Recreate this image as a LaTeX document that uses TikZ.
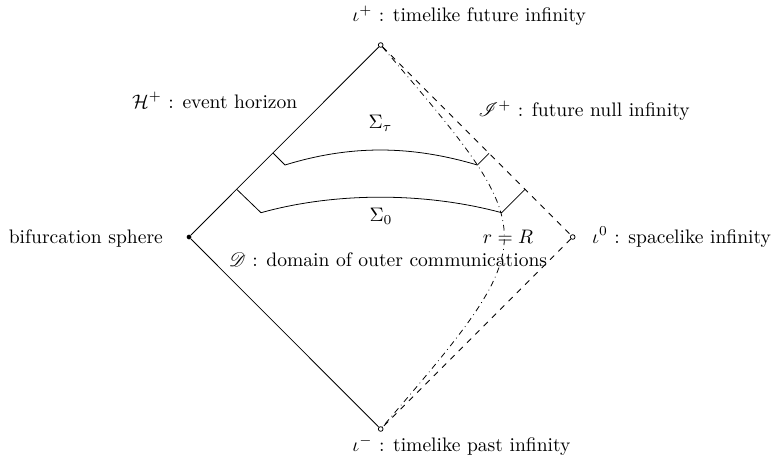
\documentclass[tikz,border=0pt]{standalone}
\usepackage{amsmath}
\usepackage{mathrsfs}
\usepackage{tikz}

\tikzset{
  infpt/.style={circle,draw,fill=white,inner sep=0pt,minimum size=2.4pt},
  bifpt/.style={circle,fill=black,inner sep=0pt,minimum size=2.4pt},
  lbl/.style={inner sep=0pt},
}

\begin{document}
\begin{tikzpicture}[x=0.511pt, y=-0.511pt, line width=0.4pt, line join=round]

  %% ════ 四个顶点 ════
  \node[infpt] (iplus)  at (380.7,45.0)  {};   % 上
  \node[infpt] (izero)  at (572.7,237.0) {};   % 右
  \node[infpt] (iminus) at (380.7,429.0) {};   % 下
  \node[bifpt] (bif)    at (189.0,237.0) {};   % 左

  %% ════ 边界 ════
  \draw (bif) -- (iplus);
  \draw (bif) -- (iminus);
  \draw[dashed] (iplus) -- (izero);
  \draw[dashed] (izero) -- (iminus);

  %% ════ r = R 曲线 ════
  \draw[dash dot] (iplus) .. controls (545.0,237.0) and (545.0,237.0) .. (iminus);

  %% ════ 两片超曲面 ════
  \coordinate (st1) at (273.3,153.3);
  \coordinate (st2) at (285.0,165.0);
  \coordinate (st3) at (477.3,165.0);
  \coordinate (st4) at (489.0,153.3);
  \draw (st1) -- (st2) .. controls (350.0,145.0) and (410.0,145.0) .. (st3) -- (st4);

  \coordinate (sz1) at (236.7,189.3);
  \coordinate (sz2) at (261.0,212.7);
  \coordinate (sz3) at (501.7,212.7);
  \coordinate (sz4) at (525.0,189.3);
  \draw (sz1) -- (sz2) .. controls (335.0,192.0) and (425.0,192.0) .. (sz3) -- (sz4);

  %% ════ 标签 ════
  \node[lbl,anchor=base west] (lplus)  at (352.0,21.7)  {$\iota^+$ : timelike future infinity};
  \node[lbl,anchor=base east] (lhor)   at (297.7,108.0) {$\mathcal{H}^+$ : event horizon};
  \node[lbl,anchor=base west] (lscri)  at (478.3,116.7) {$\mathscr{I}^+$ : future null infinity};
  \node[lbl,anchor=base east] (lbif)   at (163.3,243.0) {bifurcation sphere};
  \node[lbl,anchor=base west] (lzero)  at (591.7,243.0) {$\iota^0$ : spacelike infinity};
  \node[lbl,anchor=base west] (lminus) at (352.0,451.7) {$\iota^-$ : timelike past infinity};
  \node[lbl,anchor=base]      (ldoc)   at (388.0,266.0) {$\mathscr{D}$ : domain of outer communications};
  \node[lbl]                  (ltau)   at (380.5,123.5) {$\Sigma_\tau$};
  \node[lbl]                  (lzs)    at (381.0,216.0) {$\Sigma_0$};
  \node[lbl,anchor=base]      (lrr)    at (508.0,243.0) {$r=R$};

  % 钉死画布
  \pgfresetboundingbox
  \path[use as bounding box] (0,0) rectangle (771,456);
\end{tikzpicture}
\end{document}
